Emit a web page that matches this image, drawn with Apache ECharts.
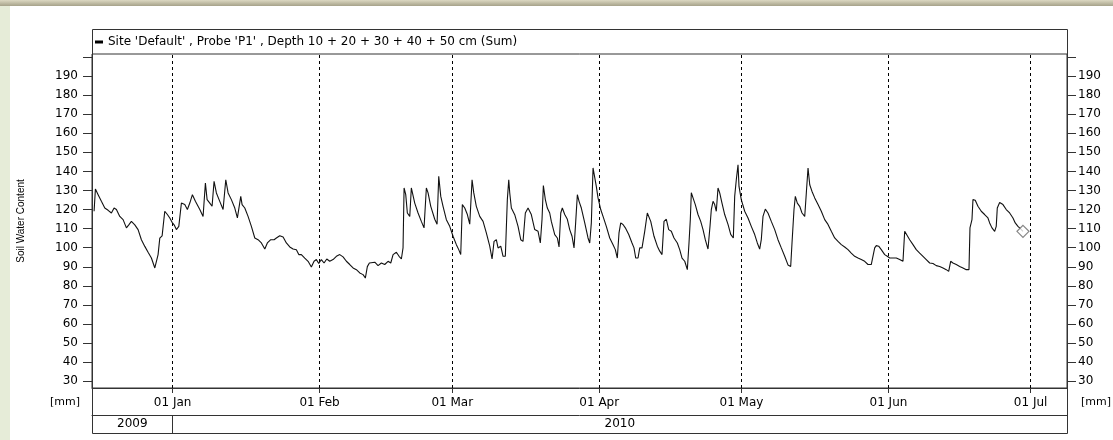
<!DOCTYPE html>
<html>
<head>
<meta charset="utf-8">
<script src="https://cdn.jsdelivr.net/npm/echarts@6/dist/echarts.min.js"></script>
<style>
html,body{margin:0;padding:0;background:#fff;}
#chart{width:1113px;height:440px;}
</style>
</head>
<body>
<div id="chart"></div>
<script>
// ---- data ----
// days since 2010-01-01 00:00 (UTC)
const dayOffsets = [
-16.56,-16.28,-15.71,-15.02,-14.30,-13.60,-12.91,-12.34,-11.85,-11.14,-10.44,-9.74,-9.24,-8.69,-7.97,-7.28,-6.58,-5.86,-5.17,-4.47,
-3.75,-3.42,-3.06,-2.70,-2.21,-1.65,-1.10,-0.59,-0.11,0.32,0.80,1.31,1.86,2.57,3.12,3.63,4.18,4.81,5.74,6.43,
6.92,7.28,7.85,8.33,8.75,9.24,9.95,10.65,11.22,11.71,12.40,13.12,13.67,14.03,14.38,14.66,15.23,15.92,16.62,17.34,
18.03,18.73,19.45,19.99,20.71,21.41,21.89,22.61,23.31,24.00,24.72,25.41,26.11,26.62,27.16,27.88,28.58,29.27,29.84,30.33,
30.83,31.38,31.95,32.52,33.15,33.85,34.55,35.26,35.96,36.66,37.37,38.07,38.77,39.48,40.18,40.66,41.08,41.51,41.93,42.65,
43.34,44.04,44.75,45.45,46.02,46.51,47.20,47.77,48.26,48.61,48.83,49.18,49.52,50.03,50.36,50.72,51.08,51.78,52.47,53.04,
53.53,53.89,54.46,55.30,55.79,56.14,56.57,57.05,57.75,58.46,59.16,59.86,60.36,60.78,61.12,61.63,62.18,62.68,63.17,63.53,
64.07,64.79,65.49,66.18,66.90,67.39,67.81,68.29,68.65,69.22,69.71,70.19,70.61,70.91,71.12,71.46,72.17,72.87,73.44,73.92,
74.41,74.98,75.67,76.39,77.09,77.57,77.93,78.21,78.63,79.05,79.55,79.89,80.61,81.16,81.52,81.88,82.21,82.72,83.27,83.77,
84.26,84.68,85.04,85.38,85.74,86.22,86.94,87.63,87.99,88.33,88.69,89.05,89.38,89.74,90.31,90.80,91.49,92.21,92.91,93.39,
93.81,94.17,94.53,95.01,95.50,96.22,96.91,97.33,97.69,98.18,98.54,99.02,99.59,100.14,100.86,101.55,102.25,102.76,103.24,103.66,
104.15,104.65,105.20,105.77,106.47,106.97,107.46,108.03,108.58,108.93,109.21,109.42,109.78,110.26,110.83,111.40,111.89,112.37,112.94,113.36,
113.64,114.00,114.35,114.69,115.05,115.41,115.89,116.46,117.16,117.73,118.28,118.57,118.91,119.27,119.48,119.96,120.68,121.38,122.07,122.79,
123.34,123.84,124.18,124.54,125.03,125.59,126.29,127.01,127.70,128.40,129.12,129.81,130.38,130.66,131.08,131.36,131.78,132.28,132.77,133.34,
133.68,134.04,134.40,134.88,135.45,136.15,136.84,137.56,138.25,138.95,139.66,140.36,141.06,141.77,142.47,143.16,143.88,144.58,145.27,145.99,
146.69,147.38,147.74,148.10,148.44,148.94,149.49,150.21,150.76,151.27,151.96,152.66,153.37,154.07,154.43,154.77,155.48,156.18,156.87,157.59,
158.29,158.98,159.70,160.40,161.09,161.81,162.51,163.20,163.71,164.13,164.61,165.31,166.03,166.72,167.42,167.99,168.20,168.62,168.83,169.31,
169.88,170.58,171.29,171.99,172.35,172.84,173.41,173.74,173.96,174.46,175.16,175.85,176.57,177.27,177.75,178.32,178.89,179.38
];
// soil water content [mm]
const swc = [
119.1,130.8,127.8,124.3,120.8,119.6,118.2,120.8,120.0,116.4,114.7,110.4,112.0,113.8,112.0,109.5,104.2,100.7,97.6,94.6,
89.4,88.5,96.4,105.0,106.2,119.1,117.4,115.6,113.3,112.0,109.5,111.2,123.4,122.6,120.0,123.4,127.8,124.3,120.0,116.4,
133.9,125.2,123.4,121.7,134.8,128.7,124.3,120.0,135.6,128.7,125.2,120.8,115.6,115.6,126.9,122.6,120.8,116.4,111.2,105.1,
104.2,102.5,99.3,102.5,104.2,104.2,105.1,106.3,105.6,102.5,100.4,99.3,98.9,96.4,96.4,94.6,92.9,89.9,92.9,93.8,
91.7,93.8,92.0,94.1,92.9,93.8,95.5,96.4,95.2,92.9,91.2,89.4,88.5,86.8,85.9,84.1,90.1,92.0,91.2,92.4,
90.6,92.0,91.2,92.9,92.0,96.4,97.6,95.5,94.1,99.9,131.3,127.8,118.2,116.4,131.3,132.1,123.4,118.2,113.8,110.4,
131.3,128.7,121.7,114.9,112.3,137.4,126.9,121.7,114.7,111.2,106.0,101.6,99.0,96.4,122.6,120.8,117.4,112.3,135.6,128.7,
121.7,116.4,113.8,107.8,100.8,94.1,103.3,104.2,99.9,100.8,95.5,95.5,125.2,135.6,128.7,120.8,117.3,111.2,104.2,103.3,
118.2,120.8,117.4,109.5,108.6,102.5,114.9,132.6,125.2,120.8,118.2,113.8,106.9,105.1,100.4,118.2,120.8,117.4,114.9,109.5,
106.0,99.9,113.8,127.8,124.3,120.8,113.0,105.1,102.5,113.0,141.8,140.9,132.1,126.1,120.0,116.4,111.2,105.1,101.6,99.0,
94.6,107.8,113.0,112.2,110.4,106.9,102.5,99.9,94.6,94.6,99.9,99.9,108.6,118.2,113.8,106.0,100.8,98.2,96.4,113.8,
114.9,109.5,108.6,105.1,102.5,99.0,94.6,92.9,88.5,102.5,114.9,128.8,126.1,122.6,117.4,113.8,109.5,104.2,99.3,111.2,
120.0,124.3,122.6,119.1,131.3,128.7,123.4,117.4,112.2,107.0,105.1,126.9,135.6,143.5,132.1,125.2,119.1,115.6,111.2,106.9,
102.5,99.3,104.2,116.4,120.2,118.2,113.8,109.5,104.2,99.9,95.5,91.0,90.2,102.5,120.0,126.9,123.4,121.7,118.2,116.4,
128.7,141.8,133.0,129.5,126.1,122.6,119.1,114.7,112.2,108.6,105.1,103.3,101.6,100.4,99.0,97.2,95.5,94.6,93.8,92.9,
91.2,91.2,92.0,99.9,101.1,100.8,99.0,96.4,95.5,94.6,94.6,94.6,93.8,92.9,108.6,107.7,104.2,101.6,99.0,97.2,
95.5,93.8,92.0,91.7,90.6,90.2,89.4,88.5,87.6,92.9,92.0,91.2,90.2,89.4,88.5,88.5,110.4,114.7,125.2,124.9,
121.7,119.1,117.4,115.6,113.0,110.4,108.6,111.2,120.8,123.7,122.6,120.0,118.2,115.6,113.0,111.2,109.9,108.6
];
const seriesName = "Site 'Default' , Probe 'P1' , Depth 10 + 20 + 30 + 40 + 50 cm (Sum)";
const monthTickDates = ['2010-01-01','2010-02-01','2010-03-01','2010-04-01','2010-05-01','2010-06-01','2010-07-01'];
const monthTickLabels = ['01 Jan','01 Feb','01 Mar','01 Apr','01 May','01 Jun','01 Jul'];
const yearLabels = ['2009','2010'];
const yTickValues = [30,40,50,60,70,80,90,100,110,120,130,140,150,160,170,180,190,200];
const yLabelValues = [30,40,50,60,70,80,90,100,110,120,130,140,150,160,170,180,190];
const axisRangeDates = ['2009-12-15T00:00:00Z','2010-07-08T16:00:00Z'];
const yRange = [26.5, 201.5];

// ---- build ----
const DAY = 86400000;
const JAN1 = Date.UTC(2010,0,1);
const toTs = s => { const p = s.split('-').map(Number); return Date.UTC(p[0], p[1]-1, p[2]); };
const monthTs = monthTickDates.map(toTs);
const xMin = Date.parse(axisRangeDates[0]);
const xMax = Date.parse(axisRangeDates[1]);
const yearMid = [(xMin + JAN1) / 2, (JAN1 + xMax) / 2];
const lineData = dayOffsets.map((d, i) => [JAN1 + d * DAY, swc[i]]);
const lastPoint = lineData[lineData.length - 1];

const FONT = 'DejaVu Sans';
const AX = '#333';

function nearestLabel(v, vals, labels) {
  let best = 0, bd = Infinity;
  vals.forEach((t, i) => { const dd = Math.abs(t - v); if (dd < bd) { bd = dd; best = i; } });
  return labels[best];
}

const chart = echarts.init(document.getElementById('chart'), null, {renderer: 'canvas'});
const yAxisCommon = {
  type: 'value', min: yRange[0], max: yRange[1],
  axisLine: {show: true, lineStyle: {color: AX}},
  axisTick: {show: true, customValues: yTickValues, length: 9, lineStyle: {color: AX}},
  splitLine: {show: false}
};
chart.setOption({
  animation: false,
  backgroundColor: '#ffffff',
  textStyle: {fontFamily: FONT},
  grid: {left: 92, right: 46, top: 54, bottom: 52, show: true, borderColor: AX, borderWidth: 1, backgroundColor: 'transparent'},
  legend: {
    show: true, left: 95, top: 36, padding: 0, itemWidth: 8, itemHeight: 3, icon: 'rect',
    data: [seriesName], selectedMode: false,
    textStyle: {fontSize: 12, color: '#000', fontFamily: FONT}
  },
  xAxis: [
    {
      type: 'value', min: xMin, max: xMax, position: 'bottom',
      axisLine: {show: true, lineStyle: {color: AX}},
      axisTick: {show: true, customValues: monthTs, length: 5, lineStyle: {color: AX}},
      axisLabel: {customValues: monthTs, formatter: v => nearestLabel(v, monthTs, monthTickLabels), margin: 9, fontSize: 12, color: '#000', fontFamily: FONT},
      splitLine: {show: false}
    },
    {
      type: 'value', min: xMin, max: xMax, position: 'bottom', offset: 27,
      axisLine: {show: true, lineStyle: {color: AX}},
      axisTick: {show: true, customValues: [JAN1], length: 18, lineStyle: {color: AX}},
      axisLabel: {customValues: yearMid, formatter: v => nearestLabel(v, yearMid, yearLabels), margin: 3, fontSize: 12, color: '#000', fontFamily: FONT},
      splitLine: {show: false}
    }
  ],
  yAxis: [
    Object.assign({}, yAxisCommon, {
      position: 'left',
      axisLabel: {customValues: yLabelValues, margin: 14, fontSize: 12, color: '#000', fontFamily: FONT},
      name: 'Soil Water Content', nameLocation: 'middle', nameGap: 66,
      nameTextStyle: {fontSize: 10, color: '#000', fontFamily: 'Liberation Sans'}
    }),
    Object.assign({}, yAxisCommon, {
      position: 'right',
      axisLabel: {customValues: yLabelValues, margin: 11, fontSize: 12, color: '#000', fontFamily: FONT}
    })
  ],
  series: [
    {
      name: seriesName, type: 'line', xAxisIndex: 0, yAxisIndex: 0,
      data: lineData, symbol: 'none', showSymbol: false,
      lineStyle: {color: '#111', width: 1.1}, itemStyle: {color: '#000'},
      markLine: {
        silent: true, symbol: ['none', 'none'], label: {show: false},
        lineStyle: {color: '#000', type: [3, 3], width: 1},
        emphasis: {disabled: true},
        data: monthTs.map(t => ({xAxis: t}))
      },
      z: 3
    },
    {
      name: 'last', type: 'scatter', xAxisIndex: 0, yAxisIndex: 0,
      data: [lastPoint], symbol: 'diamond', symbolSize: [12, 12],
      itemStyle: {color: '#ffffff', borderColor: '#666', borderWidth: 1.2},
      z: 4, silent: true
    }
  ],
  graphic: [
    {type: 'rect', z: -10, silent: true, shape: {x: 0, y: 0, width: 10, height: 440}, style: {fill: '#e6ecd8'}},
    {type: 'rect', z: -9, silent: true, shape: {x: 0, y: 0, width: 1113, height: 6},
      style: {fill: new echarts.graphic.LinearGradient(0, 0, 0, 1, [{offset: 0, color: '#dcd8c2'}, {offset: 1, color: '#a6a28a'}])}},
    {type: 'rect', z: 5, silent: true, shape: {x: 92.5, y: 29.5, width: 975, height: 404}, style: {fill: 'none', stroke: AX, lineWidth: 1}},
    {type: 'text', z: 5, silent: true, left: 50, top: 397, style: {text: '[mm]', fontSize: 11, fontFamily: FONT, fill: '#000'}},
    {type: 'text', z: 5, silent: true, left: 1081, top: 397, style: {text: '[mm]', fontSize: 11, fontFamily: FONT, fill: '#000'}}
  ]
});
</script>
</body>
</html>
